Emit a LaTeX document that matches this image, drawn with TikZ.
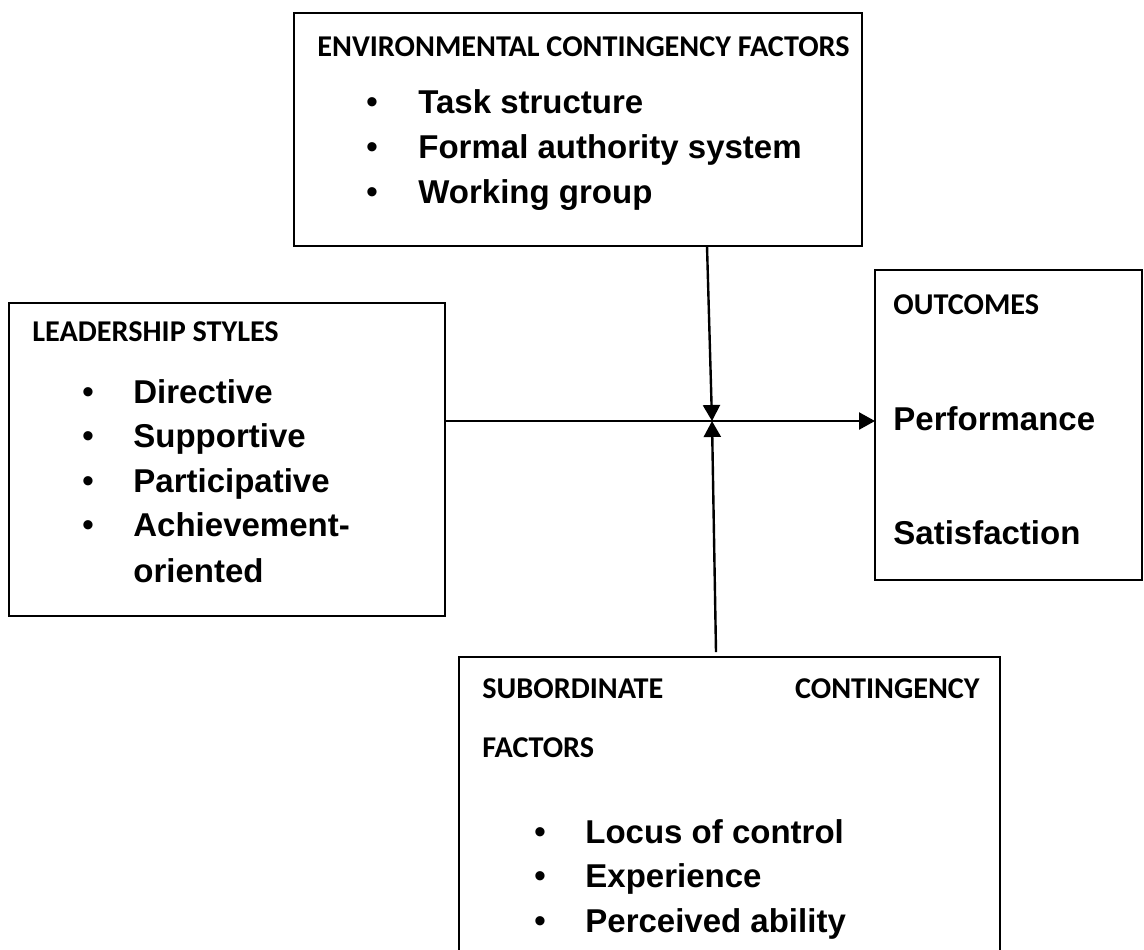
\documentclass[tikz,border=0pt]{standalone}
\usepackage{fontspec}
\setmainfont{Liberation Sans}
\newfontfamily\headfont{Carlito}
\usetikzlibrary{arrows.meta, calc}
\tikzset{box/.style={line width=0.9pt},
head/.style={anchor=base west, inner sep=0pt, font=\headfont\bfseries\fontsize{15.1}{17}\selectfont},
item/.style={anchor=base west, inner sep=0pt, font=\bfseries\fontsize{16.5}{19}\selectfont},
dot/.style={anchor=base, inner sep=0pt, font=\fontsize{17}{19}\selectfont},
link/.style={line width=1.2pt, -{Triangle[length=8pt, width=8.5pt]}}}

\begin{document}
\begin{tikzpicture}[x=0.5pt, y=-0.5pt]
\useasboundingbox (0,0) rectangle (1144,949);
\clip (0,0) rectangle (1144,949);
% box corners
\coordinate (envNW) at (294,13);   \coordinate (envSE) at (862,246);
\coordinate (styNW) at (9,303);    \coordinate (stySE) at (445,616);
\coordinate (outNW) at (875,270);  \coordinate (outSE) at (1142,580);
\coordinate (subNW) at (459,657);  \coordinate (subSE) at (1000,980);
\draw[box] (envNW) rectangle (envSE);
\draw[box] (styNW) rectangle (stySE);
\draw[box] (outNW) rectangle (outSE);
\draw[box] (subNW) rectangle (subSE);

% environmental contingency factors
\node[head] (envhead) at (317,56) {ENVIRONMENTAL CONTINGENCY FACTORS};
\foreach \t [count=\i] in {Task structure, Formal authority system, Working group} {
  \node[dot] (envdot\i) at (372,113+45*\i-45) {•};
  \node[item] (envitem\i) at (418,113+45*\i-45) {\t};
}

% leadership styles
\node[head] (styhead) at (32,341) {LEADERSHIP STYLES};
\foreach \t [count=\i] in {Directive, Supportive, Participative, Achievement-} {
  \node[dot] (stydot\i) at (88,403+44.5*\i-44.5) {•};
  \node[item] (styitem\i) at (133,403+44.5*\i-44.5) {\t};
}
\node[item] (styitem5) at (133,582) {oriented};

% outcomes
\node[head] (outhead) at (893,314) {OUTCOMES};
\node[item] (perf) at (893,430) {Performance};
\node[item] (sat) at (893,544) {Satisfaction};

% subordinate contingency factors
\node[head] (subheadA) at (482,698) {SUBORDINATE};
\node[head, anchor=base east] (subheadB) at (980,698) {CONTINGENCY};
\node[head] (subheadC) at (482,757) {FACTORS};
\foreach \t [count=\i] in {Locus of control, Experience, Perceived ability} {
  \node[dot] (subdot\i) at (540,843+44.5*\i-44.5) {•};
  \node[item] (subitem\i) at (585,843+44.5*\i-44.5) {\t};
}

% connectors
\coordinate (hub) at (712,421);
\coordinate (envfoot) at (707,246);
\coordinate (subtop) at (716,652);
\draw[link] (stySE |- hub) -- (outNW |- hub);
\draw[link] (envfoot) -- (hub);
\draw[link] (subtop) -- (hub);
\end{tikzpicture}
\end{document}
